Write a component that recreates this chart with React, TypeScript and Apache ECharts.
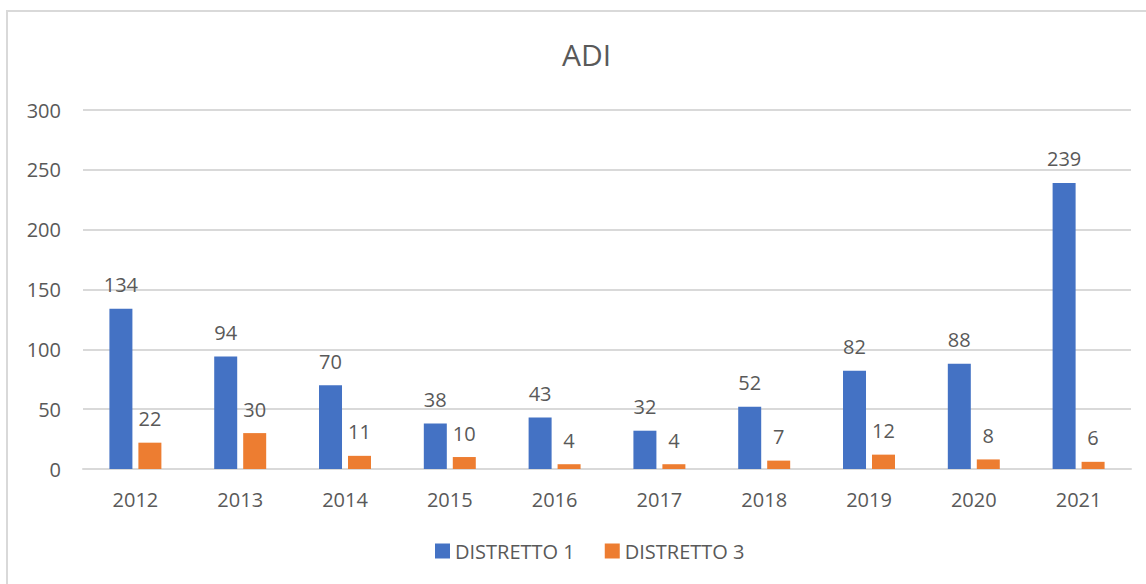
import React, { useEffect, useRef } from "react";
import * as echarts from "echarts";

const categories = ["2012", "2013", "2014", "2015", "2016", "2017", "2018", "2019", "2020", "2021"];
const distretto1 = [134, 94, 70, 38, 43, 32, 52, 82, 88, 239];
const distretto3 = [22, 30, 11, 10, 4, 4, 7, 12, 8, 6];

const FONT = "'Open Sans', 'Liberation Sans', sans-serif";
const TXT = "#595959";

export default function App() {
  const ref = useRef<HTMLDivElement>(null);
  useEffect(() => {
    if (!ref.current) return;
    const chart = echarts.init(ref.current, undefined, { renderer: "svg" });
    const labelStyle = {
      show: true,
      position: "top" as const,
      distance: 14,
      color: TXT,
      fontSize: 20,
      fontFamily: FONT,
    };
    chart.setOption({
      animation: false,
      backgroundColor: "#ffffff",
      title: {
        text: "ADI",
        left: 557,
        top: 34,
        textStyle: { color: TXT, fontSize: 30, fontWeight: "normal", fontFamily: FONT },
      },
      legend: {
        bottom: 18,
        left: 430,
        itemWidth: 15,
        itemHeight: 15,
        itemGap: 30,
        icon: "rect",
        textStyle: { color: TXT, fontSize: 20, fontFamily: FONT },
        data: ["DISTRETTO 1", "DISTRETTO 3"],
      },
      grid: { left: 83, right: 15, top: 110, bottom: 115 },
      xAxis: {
        type: "category",
        data: categories,
        axisLine: { lineStyle: { color: "#d9d9d9", width: 2 } },
        axisTick: { show: false },
        axisLabel: { color: TXT, fontSize: 20, fontFamily: FONT, margin: 20 },
      },
      yAxis: {
        type: "value",
        min: 0,
        max: 300,
        interval: 50,
        axisLine: { show: false },
        axisTick: { show: false },
        axisLabel: { color: TXT, fontSize: 20, fontFamily: FONT, margin: 22 },
        splitLine: { lineStyle: { color: "#d9d9d9", width: 2 } },
      },
      series: [
        {
          name: "DISTRETTO 1",
          type: "bar",
          data: distretto1,
          barWidth: 23,
          barGap: "26%",
          itemStyle: { color: "#4472C4" },
          label: labelStyle,
        },
        {
          name: "DISTRETTO 3",
          type: "bar",
          data: distretto3,
          barWidth: 23,
          barGap: "26%",
          itemStyle: { color: "#ED7D31" },
          label: labelStyle,
        },
      ],
      graphic: [
        {
          type: "rect",
          shape: { x: 7, y: 11, width: 1160, height: 600 },
          style: { fill: "none", stroke: "#d9d9d9", lineWidth: 2 },
          silent: true,
        },
      ],
    });
    return () => chart.dispose();
  }, []);
  return (
    <div
      ref={ref}
      style={{ position: "absolute", left: 0, top: 0, width: 1146, height: 584 }}
    />
  );
}
